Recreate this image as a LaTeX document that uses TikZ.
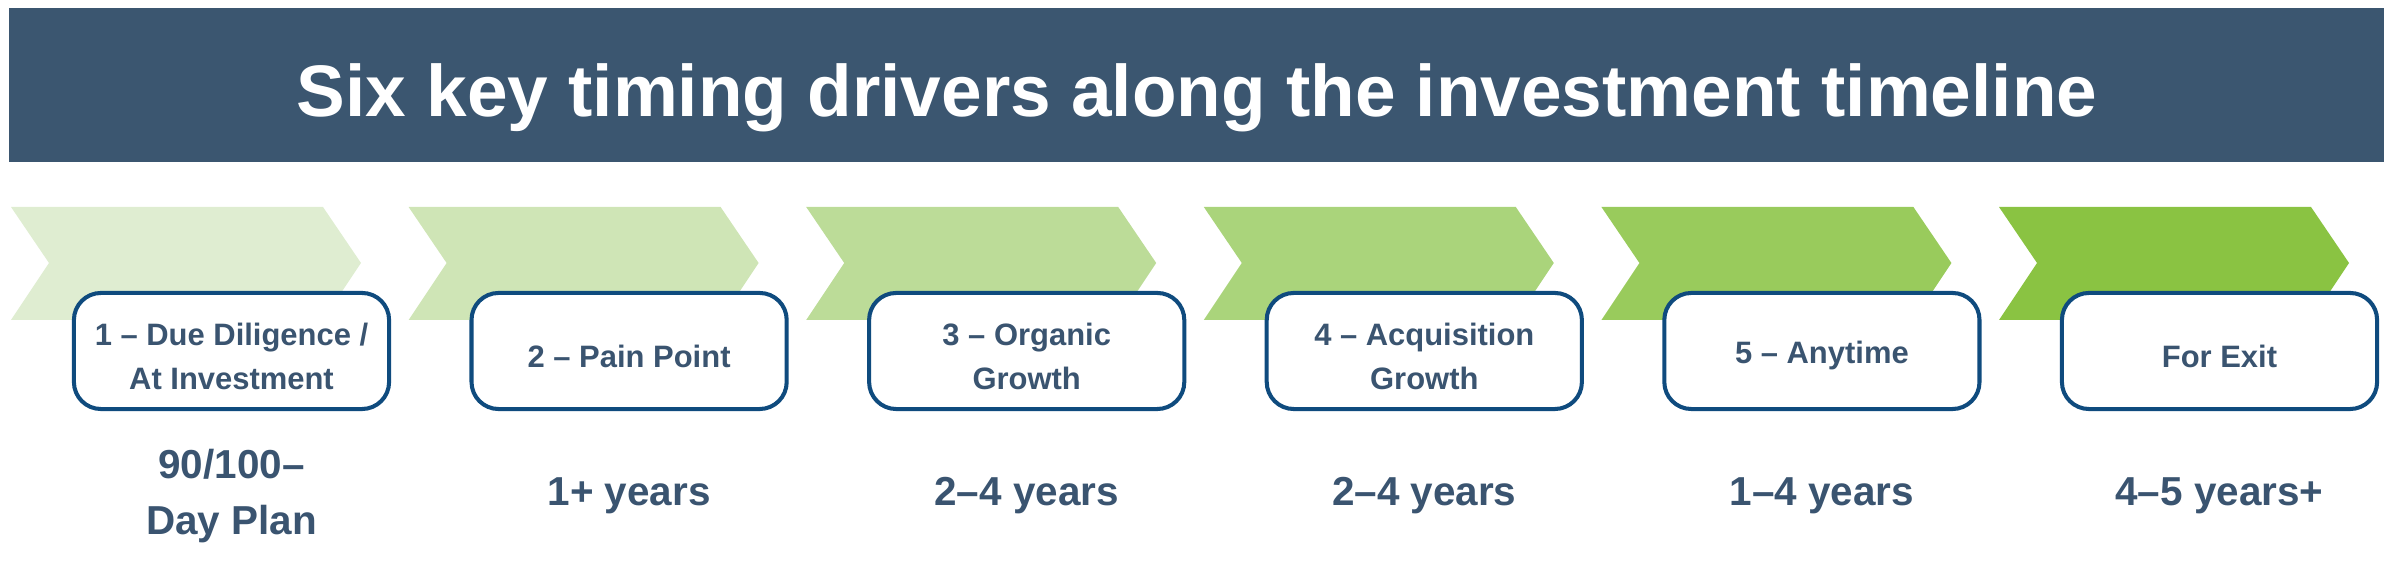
\documentclass[tikz,border=0pt]{standalone}
\usepackage{fontspec}
\setmainfont{Liberation Sans}
\definecolor{barblue}{HTML}{3B5670}
\definecolor{boxblue}{HTML}{0F4B7E}
\definecolor{textblue}{HTML}{3A5470}
\definecolor{chev1}{HTML}{DFEDD1}
\definecolor{chev2}{HTML}{CFE5B6}
\definecolor{chev3}{HTML}{BCDC98}
\definecolor{chev4}{HTML}{AAD47B}
\definecolor{chev5}{HTML}{99CB5C}
\definecolor{chev6}{HTML}{8AC342}

\begin{document}
\begin{tikzpicture}[x=0.01cm, y=-0.01cm, stage/.style={draw=boxblue, line width=1.15pt, fill=white, rounded corners=0.27cm, minimum width=3.15cm, minimum height=1.16cm}, stagetext/.style={align=center, text=textblue, font=\bfseries\fontsize{8.8}{12.5}\selectfont}, spanlabel/.style={align=center, text=textblue, font=\bfseries\fontsize{11.5}{16}\selectfont}]
\useasboundingbox (0,0) rectangle (2397,574);
\fill[barblue] (9,8) rectangle (2384,162);
\node[anchor=base, text=white, font=\bfseries\fontsize{20.75}{24}\selectfont] (title) at (1197,117) {Six key timing drivers along the investment timeline};
\foreach \i/\lbl/\when in {1/{1 – Due Diligence /\\At Investment}/{90/100–\\Day Plan}, 2/{2 – Pain Point}/{1+ years}, 3/{3 – Organic\\Growth}/{2–4 years}, 4/{4 – Acquisition\\Growth}/{2–4 years}, 5/{5 – Anytime}/{1–4 years}, 6/{For Exit}/{4–5 years+}} {
  \pgfmathsetmacro\x{11+397.6*(\i-1)}
  \fill[chev\i] (\x,207) -- ++(312,0) -- ++(38,56) -- ++(-38,57) -- ++(-312,0) -- ++(38,-57) -- cycle;
  \node[stage] (frame\i) at (\x+220.5,351) {};
  \node[stagetext] (box\i) at (\x+220.5,356) {\lbl};
  \node[spanlabel] (when\i) at (\x+220.5,496) {\when};
}
\end{tikzpicture}
\end{document}
